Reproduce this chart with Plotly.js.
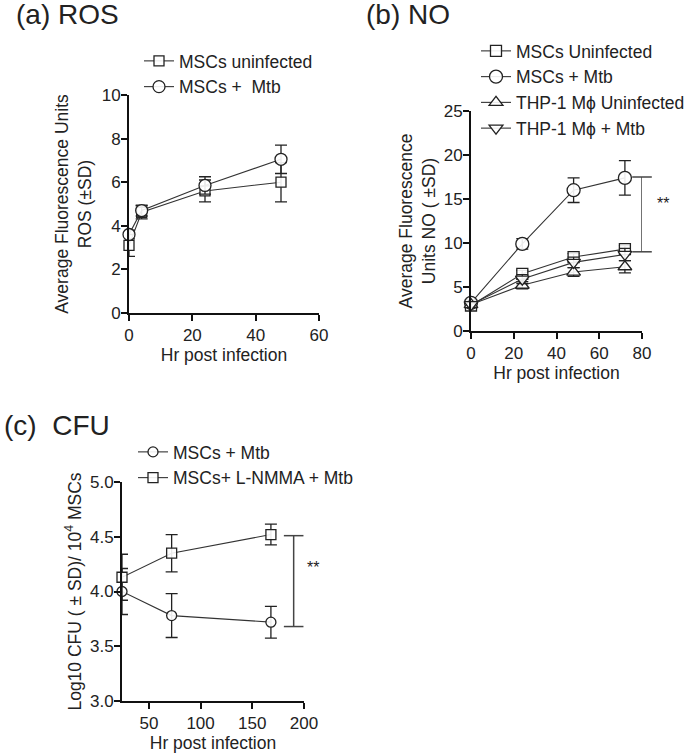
<!DOCTYPE html>
<html>
<head>
<meta charset="utf-8">
<script src="https://cdn.plot.ly/plotly-3.0.1.min.js"></script>
<style>html,body{margin:0;padding:0;background:#fff;}#chart{width:685px;height:754px;}</style>
</head>
<body>
<div id="chart"></div>
<script>
// ---------- Panel (a) ROS ----------
const rosHours = [0, 4, 24, 48];
const rosUninf = [3.1, 4.62, 5.6, 6.0];
const rosUninfSD = [0.5, 0.3, 0.5, 0.9];
const rosMtb = [3.6, 4.7, 5.85, 7.05];
const rosMtbSD = [0.2, 0.25, 0.4, 0.65];

// ---------- Panel (b) NO ----------
const noHours = [0, 24, 48, 72];
const noMscUninf = [2.9, 6.5, 8.4, 9.3];
const noMscUninfSD = [0.3, 0.4, 0.4, 0.4];
const noMscMtb = [3.2, 9.9, 16.0, 17.4];
const noMscMtbSD = [0.3, 0.6, 1.4, 1.95];
const noThpUninf = [3.0, 5.2, 6.7, 7.3];
const noThpUninfSD = [0.3, 0.4, 0.5, 0.7];
const noThpMtb = [3.0, 5.9, 7.8, 8.7];
const noThpMtbSD = [0.3, 0.5, 0.6, 0.7];
const noSig = {x: [80, 80], y: [9.0, 17.5], label: '**', labelY: 14.5};

// ---------- Panel (c) CFU ----------
const cfuHours = [24, 72, 168];
const cfuMtb = [4.0, 3.78, 3.72];
const cfuMtbSD = [0.21, 0.2, 0.145];
const cfuNmma = [4.13, 4.35, 4.52];
const cfuNmmaSD = [0.21, 0.17, 0.095];
const cfuSig = {x: [190, 190], y: [3.68, 4.51], label: '**', labelY: 4.22};

const FONT = 'Liberation Sans, Arial, sans-serif';
const INK = '#222';

function series(x, y, sd, name, symbol, size, xa, ya, leg, grp) {
  return {
    type: 'scatter', mode: 'lines+markers', x: x, y: y, name: name,
    xaxis: xa, yaxis: ya, legend: leg, legendgroup: grp, cliponaxis: false,
    line: {color: '#333', width: 1.1},
    marker: {symbol: symbol, size: size, color: 'rgba(255,255,255,0.9)', line: {color: INK, width: 1.3}},
    error_y: {type: 'data', array: sd, visible: true, color: INK, thickness: 1.3, width: 6}
  };
}
function bracket(s, xa, ya) {
  return {
    type: 'scatter', mode: 'lines+markers', x: s.x, y: s.y, xaxis: xa, yaxis: ya,
    showlegend: false, hoverinfo: 'skip', cliponaxis: false,
    line: {color: '#444', width: 1.5},
    marker: {symbol: 'line-ew', size: 14, line: {color: '#444', width: 1.5}}
  };
}

const traces = [
  series(rosHours, rosUninf, rosUninfSD, 'MSCs uninfected', 'square', 10, 'x', 'y', 'legend', 'a1'),
  series(rosHours, rosMtb, rosMtbSD, 'MSCs +  Mtb', 'circle', 12, 'x', 'y', 'legend', 'a2'),
  series(noHours, noMscUninf, noMscUninfSD, 'MSCs Uninfected', 'square', 11, 'x2', 'y2', 'legend2', 'b1'),
  series(noHours, noMscMtb, noMscMtbSD, 'MSCs + Mtb', 'circle', 13, 'x2', 'y2', 'legend2', 'b2'),
  series(noHours, noThpUninf, noThpUninfSD, 'THP-1 M\u03D5 Uninfected', 'triangle-up', 12, 'x2', 'y2', 'legend2', 'b3'),
  series(noHours, noThpMtb, noThpMtbSD, 'THP-1 M\u03D5 + Mtb', 'triangle-down', 12, 'x2', 'y2', 'legend2', 'b4'),
  bracket(noSig, 'x2', 'y2'),
  series(cfuHours, cfuMtb, cfuMtbSD, 'MSCs + Mtb', 'circle', 10, 'x3', 'y3', 'legend3', 'c1'),
  series(cfuHours, cfuNmma, cfuNmmaSD, 'MSCs+ L-NMMA + Mtb', 'square', 10, 'x3', 'y3', 'legend3', 'c2'),
  bracket(cfuSig, 'x3', 'y3')
];

function axis(extra) {
  return Object.assign({
    showline: true, linewidth: 2, linecolor: '#111', mirror: false,
    ticks: 'outside', ticklen: 6, tickwidth: 2, tickcolor: '#111',
    showgrid: false, zeroline: false, fixedrange: true, automargin: false,
    tickfont: {family: FONT, size: 17, color: INK}
  }, extra);
}
function t(text, standoff) { return {text: text, standoff: standoff, font: {family: FONT, size: 17.5, color: INK}}; }

const W = 685, H = 754;
const px = v => v / W, py = v => 1 - v / H;

const legendFont = {family: FONT, size: 17.5, color: INK};
const layout = {
  width: W, height: H,
  margin: {l: 0, r: 0, t: 0, b: 0, autoexpand: false},
  paper_bgcolor: '#fff', plot_bgcolor: '#fff',
  showlegend: true,
  xaxis: axis({domain: [px(129), px(319)], range: [0, 60], tickvals: [0, 20, 40, 60], anchor: 'y', title: t('Hr post infection', 4)}),
  yaxis: axis({domain: [py(313), py(95)], range: [0, 10], tickvals: [0, 2, 4, 6, 8, 10], anchor: 'x', ticklabelstandoff: -3, title: t('Average Fluorescence Units<br>ROS (\u00B1SD)', 6)}),
  xaxis2: axis({domain: [px(471), px(642)], range: [0, 80], tickvals: [0, 20, 40, 60, 80], anchor: 'y2', title: t('Hr post infection', 4)}),
  yaxis2: axis({domain: [py(331), py(111)], range: [0, 25], tickvals: [0, 5, 10, 15, 20, 25], anchor: 'x2', ticklabelstandoff: -3, title: t('Average Fluorescence<br>Units NO ( \u00B1SD)', 4)}),
  xaxis3: axis({domain: [px(122), px(304)], range: [24, 200], tickvals: [50, 100, 150, 200], anchor: 'y3', title: t('Hr post infection', 4)}),
  yaxis3: axis({domain: [py(701), py(482)], range: [3, 5], tickvals: [3, 3.5, 4, 4.5, 5], tickformat: '.1f', anchor: 'x3', ticklabelstandoff: -3, title: t('Log10 CFU ( \u00B1 SD)/ 10<sup>4</sup> MSCs', 4)}),
  legend: {x: px(139), y: py(43), xanchor: 'left', yanchor: 'top', font: legendFont, bgcolor: 'rgba(0,0,0,0)', traceorder: 'normal', tracegroupgap: 0},
  legend2: {x: px(476), y: py(33), xanchor: 'left', yanchor: 'top', font: legendFont, bgcolor: 'rgba(0,0,0,0)', traceorder: 'normal', tracegroupgap: 0},
  legend3: {x: px(133), y: py(434), xanchor: 'left', yanchor: 'top', font: legendFont, bgcolor: 'rgba(0,0,0,0)', traceorder: 'normal', tracegroupgap: 0},
  annotations: [
    {text: '(a) ROS', xref: 'paper', yref: 'paper', x: px(14), y: py(15), xanchor: 'left', yanchor: 'middle', showarrow: false, font: {family: FONT, size: 28, color: INK}},
    {text: '(b) NO', xref: 'paper', yref: 'paper', x: px(364), y: py(15), xanchor: 'left', yanchor: 'middle', showarrow: false, font: {family: FONT, size: 28, color: INK}},
    {text: '(c)&nbsp;&nbsp;CFU', xref: 'paper', yref: 'paper', x: px(2), y: py(425), xanchor: 'left', yanchor: 'middle', showarrow: false, font: {family: FONT, size: 28, color: INK}},
    {text: noSig.label, xref: 'x2', yref: 'y2', x: noSig.x[0], y: noSig.labelY, xshift: 21, showarrow: false, font: {family: FONT, size: 16, color: INK}},
    {text: cfuSig.label, xref: 'x3', yref: 'y3', x: cfuSig.x[0], y: cfuSig.labelY, xshift: 19, showarrow: false, font: {family: FONT, size: 16, color: INK}}
  ]
};

Plotly.newPlot('chart', traces, layout, {displayModeBar: false, staticPlot: true});
</script>
</body>
</html>
